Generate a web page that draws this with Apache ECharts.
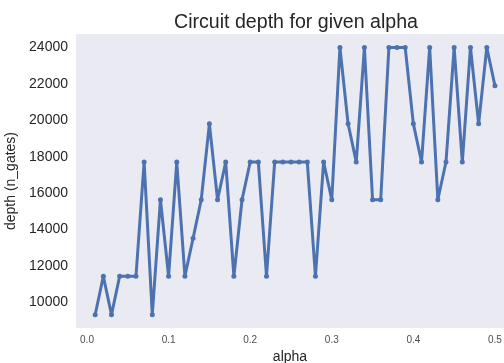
<!DOCTYPE html>
<html><head><meta charset="utf-8">
<script src="https://cdn.jsdelivr.net/npm/echarts@6/dist/echarts.min.js"></script>
<style>html,body{margin:0;padding:0;background:#fff}#c{width:504px;height:363px}</style>
</head><body><div id="c"></div>
<script>
const alphas = [0.01,0.02,0.03,0.04,0.05,0.06,0.07,0.08,0.09,0.10,
  0.11,0.12,0.13,0.14,0.15,0.16,0.17,0.18,0.19,0.20,
  0.21,0.22,0.23,0.24,0.25,0.26,0.27,0.28,0.29,0.30,
  0.31,0.32,0.33,0.34,0.35,0.36,0.37,0.38,0.39,0.40,
  0.41,0.42,0.43,0.44,0.45,0.46,0.47,0.48,0.49,0.50];
const depths = [9330,11440,9330,11440,11440,11440,17710,9330,15640,11440,
  17710,11440,13530,15640,19810,15640,17710,11440,15640,17710,
  17710,11440,17710,17710,17710,17710,17710,11440,17710,15640,
  24000,19810,17710,24000,15640,15640,24000,24000,24000,19810,
  17710,24000,15640,17710,24000,17710,24000,19810,24000,21900];
const xTicks = [0.0,0.1,0.2,0.3,0.4,0.5];
const yTicks = [10000,12000,14000,16000,18000,20000,22000,24000];

const chart = echarts.init(document.getElementById('c'));
const font = 'Liberation Sans, Arial, sans-serif';
chart.setOption({
  animation:false,
  backgroundColor:'#ffffff',
  title:{text:'Circuit depth for given alpha',left:291,top:8,textAlign:'center',
    textStyle:{fontFamily:font,fontSize:19.6,fontWeight:'normal',color:'#262626'}},
  grid:{left:76,right:0,top:34,bottom:35,show:true,backgroundColor:'#EAEAF2',borderWidth:0,
    containLabel:false,outerBoundsMode:'none'},
  xAxis:{type:'value',min:-0.0135,max:0.5111,
    name:'alpha',nameLocation:'middle',nameGap:19,
    nameTextStyle:{fontFamily:font,fontSize:14,color:'#262626'},
    axisLine:{show:false},axisTick:{show:false},splitLine:{show:false},
    axisLabel:{customValues:xTicks,fontFamily:font,fontSize:10,color:'#4d4d4d',margin:7,
      formatter:v=>v.toFixed(1)}},
  yAxis:{type:'value',min:8600,max:24740,
    name:'depth (n_gates)',nameLocation:'middle',nameGap:50,
    nameTextStyle:{fontFamily:font,fontSize:14,color:'#262626'},
    axisLine:{show:false},axisTick:{show:false},splitLine:{show:false},
    axisLabel:{customValues:yTicks,fontFamily:font,fontSize:14,color:'#262626',margin:8,
      formatter:v=>String(v)}},
  series:[{type:'line',data:alphas.map((a,i)=>[a,depths[i]]),
    symbol:'circle',symbolSize:5,showSymbol:true,
    lineStyle:{color:'#4C72B0',width:3},itemStyle:{color:'#4C72B0'}}]
});
</script></body></html>
